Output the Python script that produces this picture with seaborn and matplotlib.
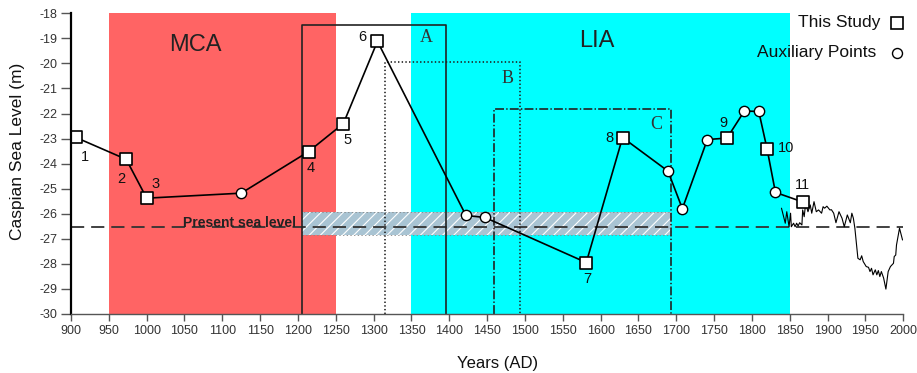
import matplotlib
matplotlib.use("Agg")
import matplotlib.pyplot as plt
import seaborn as sns
import pandas as pd
from matplotlib.patches import Rectangle

# ---------------- data ----------------
study_years = [906, 973, 1000, 1214, 1260, 1305, 1581, 1629, 1767, 1820, 1867]
study_levels = [-22.95, -23.83, -25.38, -23.52, -22.40, -19.12, -27.95, -22.96, -22.98, -23.42, -25.53]
study_labels = ["1", "2", "3", "4", "5", "6", "7", "8", "9", "10", "11"]

aux_years = [1125, 1422, 1447, 1689, 1708, 1741, 1790, 1809, 1831]
aux_levels = [-25.18, -26.07, -26.15, -24.30, -25.80, -23.04, -21.90, -21.92, -25.15]

inst_years = [1839, 1844, 1846, 1849, 1851, 1852, 1855, 1857, 1859, 1861, 1863, 1866, 1867, 1869,
              1871, 1874, 1877, 1879, 1882, 1885, 1888, 1892, 1894, 1896, 1899, 1903, 1905, 1908,
              1911, 1915, 1919, 1922, 1926, 1930, 1932, 1934, 1936, 1938, 1940, 1943, 1945, 1947,
              1951, 1954, 1956, 1958, 1960, 1963, 1965, 1967, 1969, 1971, 1974, 1977, 1980, 1983,
              1987, 1988, 1990, 1991, 1995, 1999]
inst_levels = [-25.78, -26.38, -25.92, -26.52, -25.98, -26.52, -26.38, -26.52, -26.38, -26.49,
               -26.36, -26.45, -25.85, -26.12, -25.58, -25.92, -25.65, -25.98, -25.52, -25.92,
               -25.85, -25.98, -25.72, -25.78, -25.70, -25.85, -25.84, -25.98, -26.36, -25.92,
               -26.18, -26.52, -26.05, -26.36, -25.98, -26.18, -26.58, -27.18, -27.78, -27.84,
               -27.68, -27.91, -28.11, -28.14, -28.31, -28.18, -28.44, -28.24, -28.44, -28.27,
               -28.51, -28.31, -28.57, -29.01, -28.31, -28.11, -27.98, -27.71, -27.65, -27.25,
               -26.58, -27.05]

present_sea_level = -26.55
present_band = (-26.85, -25.95)
present_band_years = (1205, 1693)

periods = ["MCA", "LIA"]
period_starts = [950, 1350]
period_ends = [1250, 1850]

boxes = ["A", "B", "C"]
box_starts = [1205, 1315, 1459]
box_ends = [1395, 1494, 1693]
box_tops = [-18.45, -19.95, -21.83]

x_ticks = list(range(900, 2001, 50))
y_ticks = list(range(-30, -17, 1))

# ---------------- style ----------------
sns.set_style("white")
plt.rcParams['font.family'] = ['Liberation Sans', 'DejaVu Sans']
plt.rcParams['axes.unicode_minus'] = False
plt.rcParams['lines.scale_dashes'] = False
plt.rcParams['hatch.linewidth'] = 0.8

fig = plt.figure(figsize=(9.17, 3.73), dpi=100)
L, R, T, B = 71, 903.3, 13.3, 313.9
ax = fig.add_axes([L / 917, 1 - B / 373, (R - L) / 917, (B - T) / 373])
ax.set_xlim(900, 2000)
ax.set_ylim(-30, -18)

# period bands
period_colors = ["#FF6464", "#00FFFF"]
for s, e, c in zip(period_starts, period_ends, period_colors):
    ax.axvspan(s, e, color=c, lw=0, zorder=0)
ax.text(1065, -19.25, periods[0], fontsize=17, color="#222222", ha="center", va="center", zorder=6)
ax.text(1595, -19.1, periods[1], fontsize=17, color="#222222", ha="center", va="center", zorder=6)

# present-level band (hatched)
ax.add_patch(Rectangle((present_band_years[0], present_band[0]),
                       present_band_years[1] - present_band_years[0],
                       present_band[1] - present_band[0],
                       facecolor="#A9C4D3", edgecolor="white", hatch="///", lw=0, zorder=1))
ax.add_patch(Rectangle((present_band_years[0], present_band[0]),
                       present_band_years[1] - present_band_years[0],
                       present_band[1] - present_band[0],
                       facecolor="none", edgecolor="#888888", ls=":", lw=0.6, zorder=1.1))

# present sea level dashed line
ax.axhline(present_sea_level, color="#333333", lw=1.3, dashes=(9.5, 5), zorder=2)
ax.text(1197, present_sea_level + 0.02, "Present sea level", fontsize=10, fontweight="bold",
        color="#222222", ha="right", va="baseline", zorder=6)

# boxes A, B, C
box_styles = ["-", ":", "-."]
box_label_pos = [(1370, -18.95), (1477, -20.6), (1673, -22.45)]
for s, e, t, st, lab, (lx, ly) in zip(box_starts, box_ends, box_tops, box_styles, boxes, box_label_pos):
    ax.plot([s, s, e, e], [-30, t, t, -30], color="#222222", lw=1.2, ls=st, zorder=3)
    ax.text(lx, ly, lab, fontsize=13, family=["Liberation Serif", "DejaVu Serif"],
            color="#333333", ha="center", va="center", zorder=6)

# instrumental record
inst_df = pd.DataFrame({"year": inst_years, "level": inst_levels})
sns.lineplot(data=inst_df, x="year", y="level", color="black", lw=0.8, ax=ax,
             estimator=None, sort=False, zorder=4)

# reconstruction line
all_df = pd.DataFrame({"year": study_years + aux_years,
                       "level": study_levels + aux_levels}).sort_values("year")
sns.lineplot(data=all_df, x="year", y="level", color="black", lw=1.2, ax=ax,
             estimator=None, sort=False, zorder=4)

study_df = pd.DataFrame({"year": study_years, "level": study_levels})
aux_df = pd.DataFrame({"year": aux_years, "level": aux_levels})
sns.scatterplot(data=study_df, x="year", y="level", marker="s", s=78, facecolor="white",
                edgecolor="black", linewidth=1.2, ax=ax, zorder=5)
sns.scatterplot(data=aux_df, x="year", y="level", marker="o", s=55, facecolor="white",
                edgecolor="black", linewidth=1.0, ax=ax, zorder=5)

# number labels
label_offsets = [(9, -20), (-5, -20), (9, 14), (2, -16), (4, -16), (-15, 4),
                 (1, -16), (-13, 0), (-4, 15), (19, 1), (0, 17)]
for x, y, lab, (dx, dy) in zip(study_years, study_levels, study_labels, label_offsets):
    ax.annotate(lab, (x, y), xytext=(dx, dy), textcoords="offset pixels",
                fontsize=10.5, color="#111111", ha="center", va="center", zorder=6)

# legend (manual)
ax.text(0.972, 0.968, "This Study", transform=ax.transAxes, fontsize=12.5, color="#111111",
        ha="right", va="center")
ax.text(0.967, 0.868, "Auxiliary Points", transform=ax.transAxes, fontsize=12.5, color="#111111",
        ha="right", va="center")
ax.plot([0.9925], [0.968], marker="s", ms=8.6, mfc="white", mec="black", mew=1.2,
        transform=ax.transAxes, clip_on=False, zorder=6)
ax.plot([0.9925], [0.868], marker="o", ms=7.2, mfc="white", mec="black", mew=1.0,
        transform=ax.transAxes, clip_on=False, zorder=6)

# axes styling
for side in ["top", "right"]:
    ax.spines[side].set_visible(False)
ax.spines["left"].set_color("black")
ax.spines["left"].set_linewidth(1.6)
ax.spines["bottom"].set_color("#555555")
ax.spines["bottom"].set_linewidth(1.0)
ax.spines["left"].set_zorder(7)
ax.spines["bottom"].set_zorder(7)

ax.set_xticks(x_ticks)
ax.set_yticks(y_ticks)
ax.set_xticklabels([str(v) for v in x_ticks])
ax.set_yticklabels([str(v) for v in y_ticks])
ax.tick_params(axis="y", direction="out", length=7, width=1.0, color="#555555",
               labelsize=9, labelcolor="#333333", pad=3, left=True)
ax.tick_params(axis="x", direction="out", length=5, width=1.0, color="#555555",
               labelsize=9, labelcolor="#333333", pad=3, bottom=True)

ax.set_xlabel("Years (AD)", fontsize=12, color="#111111")
ax.set_ylabel("Caspian Sea Level (m)", fontsize=12.5, color="#111111")
ax.xaxis.set_label_coords(0.512, -0.165)
ax.xaxis.label.set_va("center")
ax.yaxis.set_label_coords(-0.064, 0.54)
ax.yaxis.label.set_va("center")

fig.savefig("out.png", dpi=100)
